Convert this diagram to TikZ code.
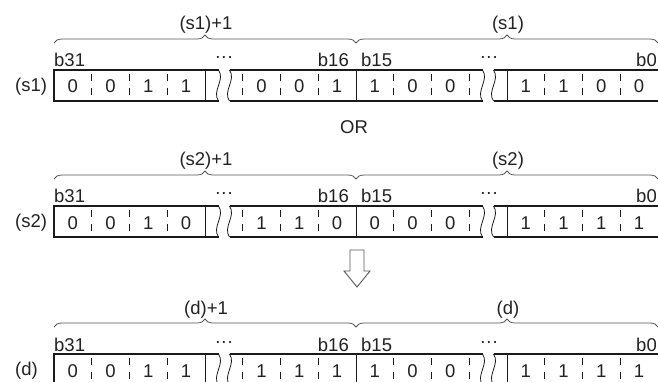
\documentclass[tikz,border=0pt]{standalone}
\usepackage{fontspec}
\setmainfont{Liberation Sans}
\usetikzlibrary{decorations.pathreplacing}
\definecolor{txt}{HTML}{222222}
\definecolor{lin}{HTML}{1A1A1A}
\definecolor{brc}{HTML}{555555}
\tikzset{
  boxline/.style={draw=lin,line width=1.2pt},
  divline/.style={draw=lin,line width=1pt},
  dashdiv/.style={draw=lin,line width=0.8pt,dash pattern=on 7pt off 7pt},
  waveline/.style={draw=lin,line width=0.8pt},
  bracestyle/.style={draw=brc,line width=0.8pt,decorate,decoration={brace,amplitude=8pt}},
  lbl/.style={text=txt,inner sep=0pt,anchor=base},
  arrowshape/.style={draw=brc,line width=0.9pt,fill=white},
}
\newcommand\bitrow[6]{%
  \def\T{#2}%
  % outline pieces
  \draw[boxline] (218.5,\T) -- (54,\T) -- (54,\T+31) -- (218.5,\T+31);
  \draw[boxline] (229.5,\T) -- (482.5,\T);
  \draw[boxline] (229.5,\T+31) -- (482.5,\T+31);
  \draw[boxline] (493.5,\T) -- (665,\T);
  \draw[boxline] (493.5,\T+31) -- (665,\T+31);
  % breaks
  \foreach \w in {218.5,229.5,482.5,493.5}{
    \draw[waveline] (\w,\T) .. controls (\w+7,\T+10) and (\w-7,\T+21) .. (\w,\T+31);
  }
  % solid dividers
  \foreach \k in {4,8,12}{
    \draw[divline] ({54+37.75*\k},\T) -- ({54+37.75*\k},\T+31);
  }
  % dashed dividers
  \foreach \k in {1,2,3,5,6,7,9,10,11,13,14,15}{
    \draw[dashdiv] ({54+37.75*\k},\T+4) -- ({54+37.75*\k},\T+26);
  }
  % digits
  \foreach \k/\v in {#6}{
    \node[lbl] (#1c\k) at ({54+37.75*(\k+0.5)},\T+23) {\v};
  }
  % row label
  \node[lbl,anchor=base west] (#1name) at (15,\T+21.5) {#3};
  % bit labels
  \node[lbl,anchor=base west] (#1b31) at (54,\T-3) {b31};
  \node[lbl,anchor=base east] (#1b16) at (349,\T-3) {b16};
  \node[lbl,anchor=base west] (#1b15) at (361,\T-3) {b15};
  \node[lbl,anchor=base east] (#1b0) at (657,\T-3) {b0};
  \node[lbl] (#1dotsA) at (224,\T-7) {···};
  \node[lbl] (#1dotsB) at (489,\T-7) {···};
  % braces
  \coordinate (#1brA) at (54,\T-27);
  \coordinate (#1brM) at (356,\T-27);
  \coordinate (#1brB) at (658,\T-27);
  \draw[bracestyle] (#1brA) -- (#1brM);
  \draw[bracestyle] (#1brM) -- (#1brB);
  \node[lbl] (#1hi) at (206,\T-40) {#4};
  \node[lbl] (#1lo) at (508,\T-40) {#5};
}
\begin{document}
\begin{tikzpicture}[x=1pt,y=-1pt,font=\fontsize{18.5}{22}\selectfont]
\useasboundingbox (0,0) rectangle (658,382);
\clip (0,0) rectangle (658,382);
\bitrow{sa}{70}{(s1)}{(s1)+1}{(s1)}{0/0,1/0,2/1,3/1,5/0,6/0,7/1,8/1,9/0,10/0,12/1,13/1,14/0,15/0}
\node[text=txt,inner sep=0pt] (orlabel) at (354,127) {OR};
\bitrow{sb}{206}{(s2)}{(s2)+1}{(s2)}{0/0,1/0,2/1,3/0,5/1,6/1,7/0,8/0,9/0,10/0,12/1,13/1,14/1,15/1}
\draw[arrowshape] (350,250) -- (364,250) -- (364,271) -- (370,271) -- (357,287) -- (344,271) -- (350,271) -- cycle;
\node[inner sep=0pt] (arrowcenter) at (357,268) {};
\bitrow{dd}{354}{(d)}{(d)+1}{(d)}{0/0,1/0,2/1,3/1,5/1,6/1,7/1,8/1,9/0,10/0,12/1,13/1,14/1,15/1}
\end{tikzpicture}
\end{document}
